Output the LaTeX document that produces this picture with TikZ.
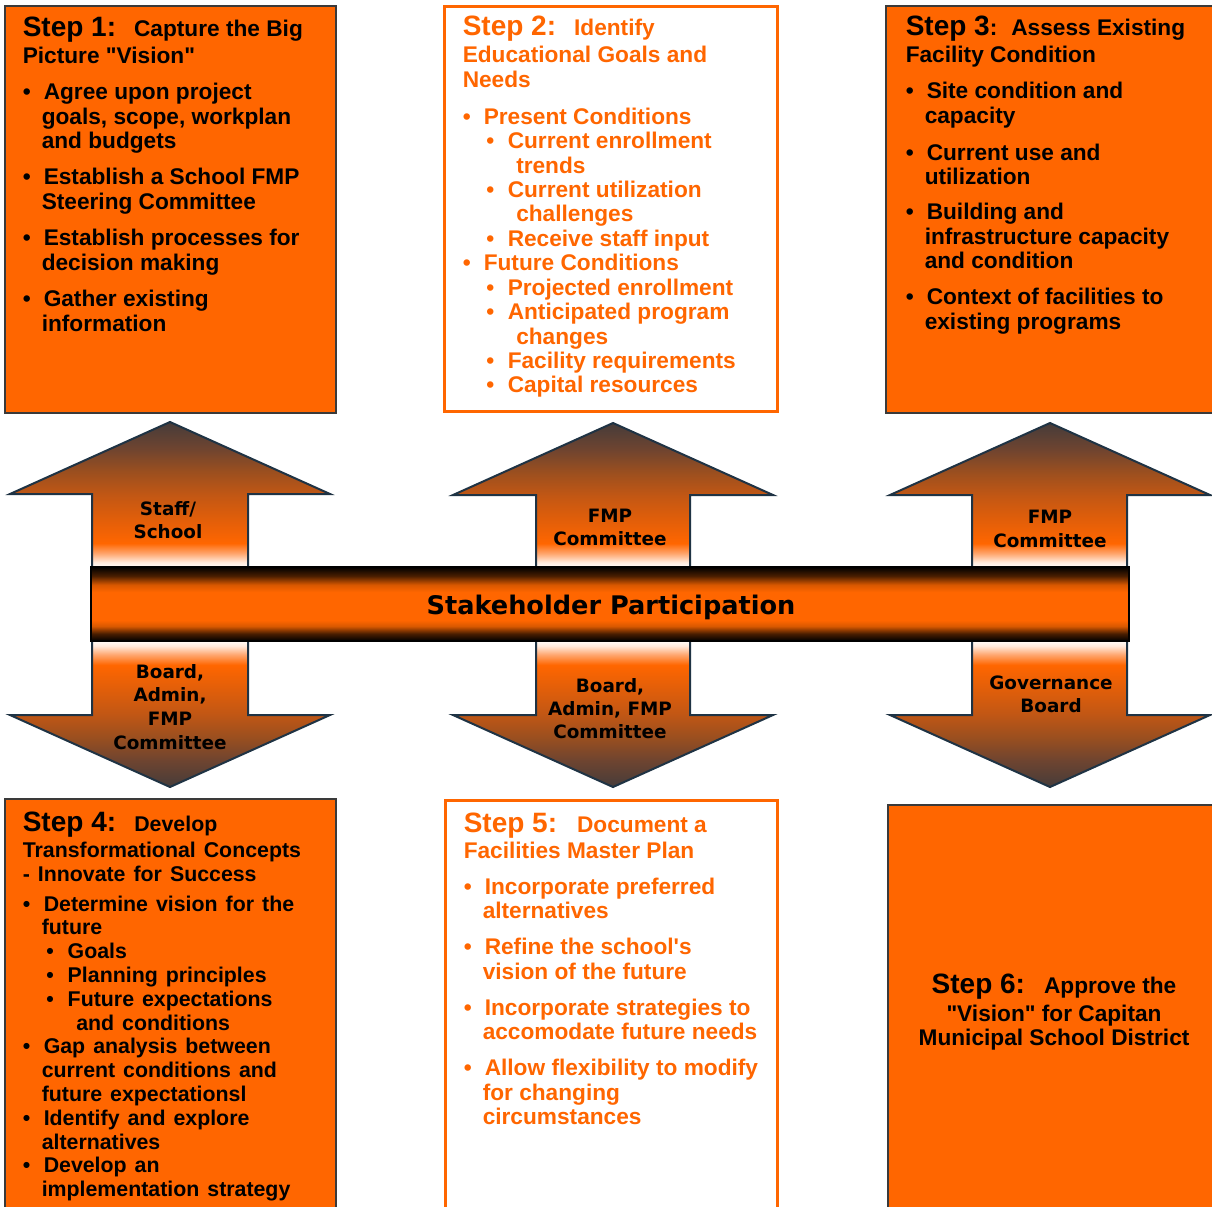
\documentclass[tikz,border=0pt]{standalone}
\usepackage{fontspec}
\setmainfont{Liberation Sans}[Ligatures=TeXOff]
\newfontfamily\vfont{DejaVu Sans}
\newdimen\pxu \pxu=0.75pt
\definecolor{orng}{HTML}{FF6600}
\definecolor{navy}{HTML}{1F3344}
\definecolor{boxline}{HTML}{3A3A3A}
\definecolor{aw1}{HTML}{FFEADC}
\definecolor{aw2}{HTML}{FFA66E}
\definecolor{ab1}{HTML}{E05E0A}
\definecolor{ab2}{HTML}{C25714}
\definecolor{ab3}{HTML}{9B4F1F}
\definecolor{ab4}{HTML}{6E4430}
\definecolor{ab5}{HTML}{463C3A}
\definecolor{bb1}{HTML}{4A1E00}
\definecolor{bb2}{HTML}{D85800}
\pgfdeclareverticalshading{arrowshade}{100bp}{color(0bp)=(white); color(25bp)=(white); color(27bp)=(aw1); color(30bp)=(aw2); color(33.5bp)=(orng); color(42bp)=(ab1); color(50bp)=(ab2); color(58bp)=(ab3); color(66bp)=(ab4); color(75bp)=(ab5); color(100bp)=(ab5)}
\pgfdeclareverticalshading{barshade}{100bp}{color(0bp)=(black); color(25bp)=(black); color(30bp)=(bb1); color(35bp)=(bb2); color(39bp)=(orng); color(58bp)=(orng); color(63bp)=(bb2); color(69bp)=(bb1); color(75bp)=(black); color(100bp)=(black)}
\newcommand\blk[2]{\vtop{\baselineskip=#1\pxu\lineskiplimit=-1000pt\lineskip=0pt #2}}
\newcommand\Lh[1]{\hbox{#1}}
\newcommand\Lb[1]{\hbox{\makebox[21\pxu][l]{\textbullet}#1}}
\newcommand\Lc[1]{\hbox{\hspace*{19\pxu}#1}}
\newcommand\Lbb[1]{\hbox{\hspace*{23.5\pxu}\makebox[21.5\pxu][l]{\textbullet}#1}}
\newcommand\Lcc[1]{\hbox{\hspace*{53.5\pxu}#1}}
\newcommand\Lz[1]{\hbox to 0pt{\hss#1\hss}}
\newcommand\gap[1]{\vskip#1\pxu\relax}
\newcommand\fbody{\fontsize{17pt}{20pt}\selectfont\bfseries}
\newcommand\fbodys{\fontsize{16pt}{19pt}\selectfont\bfseries}
\newcommand\fstep{\fontsize{21pt}{24pt}\selectfont}
\begin{document}
\begin{tikzpicture}[x=0.75pt,y=-0.75pt,
  obox/.style={fill=orng,draw=boxline,line width=1.2\pxu},
  wbox/.style={fill=white,draw=orng,line width=3\pxu},
  arr/.style={draw=navy,line width=2\pxu,shading=arrowshade,line join=miter},
  arrdown/.style={arr,shading angle=180},
  txt/.style={anchor=base west,inner sep=0pt,font=\fbody},
  otxt/.style={txt,text=orng},
  ctxt/.style={anchor=base,inner sep=0pt,font=\fbody},
  lab/.style={anchor=base,inner sep=0pt,font=\vfont\fontsize{13.8pt}{17pt}\selectfont\bfseries}]
\clip (0,0) rectangle (1212,1206);
\fill[white] (0,0) rectangle (1212,1206);
% step boxes
\draw[obox] (5,6) rectangle (336,413);
\draw[wbox] (444.5,6.5) rectangle (777.5,411.5);
\draw[obox] (886,6) rectangle (1216,413);
\draw[obox] (5,799) rectangle (336,1212);
\draw[wbox] (445,800.5) rectangle (777,1212);
\draw[obox] (888,805) rectangle (1216,1212);
% arrows up
\draw[arr] (92,568) -- (92,494) -- (10,494) -- (170,422) -- (330,494) -- (248,494) -- (248,568) -- cycle;
\draw[arr] (536,568) -- (536,495) -- (453,495) -- (613,423) -- (773,495) -- (690,495) -- (690,568) -- cycle;
\draw[arr] (972,568) -- (972,495) -- (890,495) -- (1050,423) -- (1210,495) -- (1127,495) -- (1127,568) -- cycle;
% arrows down
\draw[arrdown] (92,640) -- (92,715) -- (10,715) -- (170,787) -- (330,715) -- (248,715) -- (248,640) -- cycle;
\draw[arrdown] (536,640) -- (536,715) -- (453,715) -- (613,787) -- (773,715) -- (690,715) -- (690,640) -- cycle;
\draw[arrdown] (972,640) -- (972,715) -- (890,715) -- (1050,787) -- (1210,715) -- (1127,715) -- (1127,640) -- cycle;
% bar
\node[draw=black,line width=2.5\pxu,shading=barshade,minimum width=1038\pxu,minimum height=74\pxu,inner sep=0pt,outer sep=0pt] (bar) at (610,604) {};
\node[anchor=base,inner sep=0pt,font=\vfont\fontsize{19.2pt}{22pt}\selectfont\bfseries] (barlab) at (611,614) {Stakeholder Participation};
% arrow labels
\node[lab] (l1u) at (168,515) {\blk{23.3}{\Lz{Staff/}\Lz{School}}};
\node[lab] (l2u) at (610,522) {\blk{23.3}{\Lz{FMP}\Lz{Committee}}};
\node[lab] (l3u) at (1050,523) {\blk{24}{\Lz{FMP}\Lz{Committee}}};
\node[lab] (l1d) at (170,678) {\blk{23.7}{\Lz{Board,}\Lz{Admin,}\Lz{FMP}\Lz{Committee}}};
\node[lab] (l2d) at (610,692) {\blk{23}{\Lz{Board,}\Lz{Admin, FMP}\Lz{Committee}}};
\node[lab] (l3d) at (1051,689) {\blk{23}{\Lz{Governance}\Lz{Board}}};
% step 1
\node[txt] (t1) at (22.5,37) {\blk{24.5}{%
\Lh{{\fstep Step 1:}\hspace{18\pxu}Capture the Big}\gap{2.5}
\Lh{Picture "Vision"}\gap{11.5}
\Lb{Agree upon project}
\Lc{goals, scope, workplan}
\Lc{and budgets}\gap{11.5}
\Lb{Establish a School FMP}
\Lc{Steering Committee}\gap{11.5}
\Lb{Establish processes for}
\Lc{decision making}\gap{12}
\Lb{Gather existing}
\Lc{information}}};
% step 2
\node[otxt] (t2) at (462.5,36) {\blk{24.4}{%
\Lh{{\fstep Step 2:}\hspace{18\pxu}Identify}\gap{2.6}
\Lh{Educational Goals and}
\Lh{Needs}\gap{12.6}
\Lb{Present Conditions}
\Lbb{Current enrollment}
\Lcc{trends}
\Lbb{Current utilization}
\Lcc{challenges}
\Lbb{Receive staff input}
\Lb{Future Conditions}
\Lbb{Projected enrollment}
\Lbb{Anticipated program}
\Lcc{changes}
\Lbb{Facility requirements}
\Lbb{Capital resources}}};
% step 3
\node[txt] (t3) at (905.5,36) {\blk{24.5}{%
\Lh{{\fstep Step 3}:\hspace{14\pxu}Assess Existing}\gap{2.5}
\Lh{Facility Condition}\gap{11.5}
\Lb{Site condition and}
\Lc{capacity}\gap{12.5}
\Lb{Current use and}
\Lc{utilization}\gap{10.5}
\Lb{Building and}
\Lc{infrastructure capacity}
\Lc{and condition}\gap{11.5}
\Lb{Context of facilities to}
\Lc{existing programs}}};
% step 4
\node[txt,font=\fbodys] (t4) at (22.5,831) {\blk{23.8}{\spaceskip=8\pxu\relax
\Lh{{\fstep Step 4:}\hspace{18\pxu}Develop}\gap{2.2}
\Lh{Transformational Concepts}\gap{0.2}
\Lh{- Innovate for Success}\gap{6.2}
\Lb{Determine vision for the}
\Lc{future}
\Lbb{Goals}
\Lbb{Planning principles}
\Lbb{Future expectations}
\Lcc{and conditions}
\Lb{Gap analysis between}
\Lc{current conditions and}
\Lc{future expectationsl}
\Lb{Identify and explore}
\Lc{alternatives}
\Lb{Develop an}
\Lc{implementation strategy}}};
% step 5
\node[otxt] (t5) at (463.5,832) {\blk{24.5}{%
\Lh{{\fstep Step 5:}\hspace{20\pxu}Document a}\gap{1.5}
\Lh{Facilities Master Plan}\gap{11.5}
\Lb{Incorporate preferred}
\Lc{alternatives}\gap{11.5}
\Lb{Refine the school's}
\Lc{vision of the future}\gap{11.5}
\Lb{Incorporate strategies to}
\Lc{accomodate future needs}\gap{11.5}
\Lb{Allow flexibility to modify}
\Lc{for changing}
\Lc{circumstances}}};
% step 6
\node[ctxt] (t6) at (1054,993) {\blk{24}{%
\Lz{{\fstep Step 6:}\hspace{19\pxu}Approve the}\gap{4}
\Lz{"Vision" for Capitan}
\Lz{Municipal School District}}};
\end{tikzpicture}
\end{document}
